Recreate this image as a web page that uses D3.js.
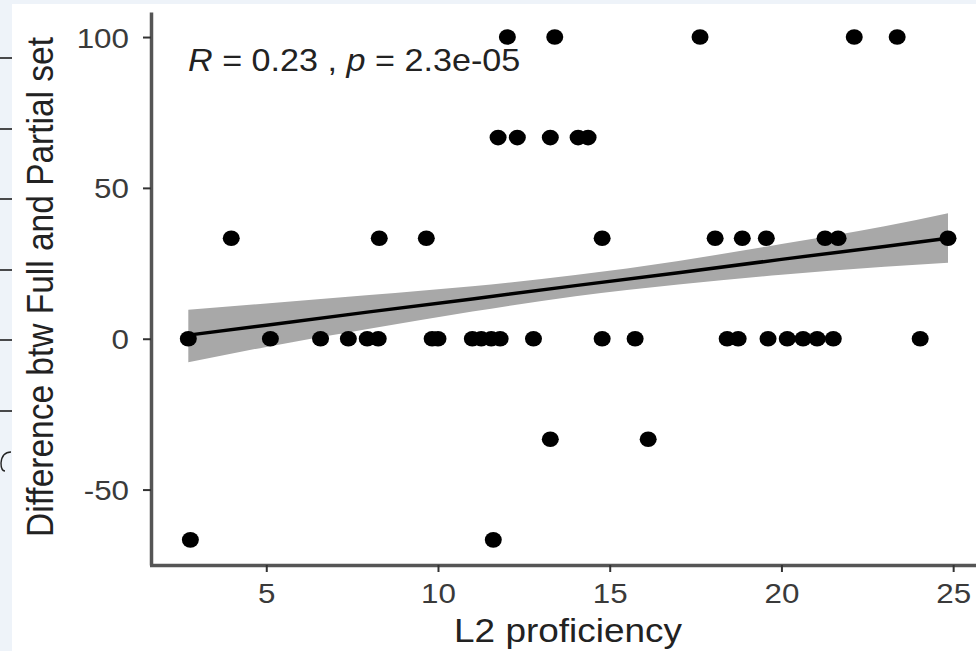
<!DOCTYPE html>
<html>
<head>
<meta charset="utf-8">
<script src="https://cdn.jsdelivr.net/npm/d3@7"></script>
<style>
  html, body { margin: 0; padding: 0; background: #eef3f9; }
  svg { display: block; }
  text { font-family: "Liberation Sans", Arial, sans-serif; }
</style>
</head>
<body>
<script>
//L2 proficiency of each participant (x) and difference score (y)
var profX = [12.02, 13.40, 17.63, 22.12, 23.37,
             11.75, 12.31, 13.27, 14.08, 14.37,
             3.98, 8.29, 9.66, 14.78, 18.07, 18.86, 19.56, 21.27, 21.65, 24.85,
             2.73, 5.12, 6.58, 7.39, 7.94, 8.26, 9.83, 10.00, 11.00, 11.26, 11.55, 11.81,
             12.78, 14.78, 15.74, 18.42, 18.74, 19.61, 20.17, 20.63, 21.04, 21.51, 24.04,
             13.27, 16.12,
             2.79, 11.61];
var diffY = [100, 100, 100, 100, 100,
             66.67, 66.67, 66.67, 66.67, 66.67,
             33.33, 33.33, 33.33, 33.33, 33.33, 33.33, 33.33, 33.33, 33.33, 33.33,
             0, 0, 0, 0, 0, 0, 0, 0, 0, 0, 0, 0,
             0, 0, 0, 0, 0, 0, 0, 0, 0, 0, 0,
             -33.33, -33.33,
             -66.67, -66.67];

//fitted line and its confidence band
var fitX = [2.73, 5, 8, 11, 14, 17, 20, 23, 24.85];
var fitY = [1.2, 4.5, 8.9, 13.2, 17.6, 21.9, 26.3, 30.6, 33.3];
var ciLow = [-7.8, -2.7, 3.3, 9.0, 14.1, 18.0, 21.2, 23.9, 25.2];
var ciHigh = [9.6, 11.7, 14.5, 17.4, 21.1, 25.8, 31.4, 37.3, 41.6];

//axis ticks
var xTicks = [5, 10, 15, 20, 25];
var yTicks = [-50, 0, 50, 100];

var statLabel = ["R", " = 0.23 , ", "p", " = 2.3e-05"];

window.onload = drawChart();

function drawChart(){

    var width = 976,
        height = 651,
        stretch = 1.12; //picture is slightly wider than tall

    var svg = d3.select("body")
        .append("svg")
        .attr("width", width)
        .attr("height", height);

    //white panel area (screenshot has a pale border top and left)
    svg.append("rect")
        .attr("x", 12)
        .attr("y", 4)
        .attr("width", width - 12)
        .attr("height", height - 4)
        .attr("fill", "#ffffff");

    //bits of a neighbouring figure that show at the left edge
    [58, 129, 199, 270, 340, 411].forEach(function(y){
        svg.append("line")
            .attr("x1", 0).attr("x2", 12)
            .attr("y1", y).attr("y2", y)
            .attr("stroke", "#111")
            .attr("stroke-width", 1.5);
    });
    svg.append("path")
        .attr("d", "M11,452 Q2,452 1,463 Q1,471 5,471")
        .attr("fill", "none")
        .attr("stroke", "#222")
        .attr("stroke-width", 1.4);

    var x = d3.scaleLinear()
        .domain([1.6, 26.0])
        .range([149.5, 987.5]);

    var y = d3.scaleLinear()
        .domain([-75, 108.3])
        .range([565, 12]);

    //confidence band
    var band = fitX.map(function(d, i){ return {x: d, lo: ciLow[i], hi: ciHigh[i], f: fitY[i]}; });

    svg.append("path")
        .datum(band)
        .attr("fill", "#a8a8a8")
        .attr("d", d3.area()
            .x(function(d){ return x(d.x); })
            .y0(function(d){ return y(d.lo); })
            .y1(function(d){ return y(d.hi); })
            .curve(d3.curveMonotoneX));

    //regression line
    svg.append("path")
        .datum(band)
        .attr("fill", "none")
        .attr("stroke", "#000")
        .attr("stroke-width", 3.5)
        .attr("d", d3.line()
            .x(function(d){ return x(d.x); })
            .y(function(d){ return y(d.f); }));

    //points
    var pts = profX.map(function(d, i){ return {x: d, y: diffY[i]}; });

    svg.selectAll(".dot")
        .data(pts)
        .enter()
        .append("ellipse")
        .attr("class", "dot")
        .attr("cx", function(d){ return x(d.x); })
        .attr("cy", function(d){ return y(d.y); })
        .attr("rx", 8.5)
        .attr("ry", 7.8)
        .attr("fill", "#000");

    //axes (plain hyphen for negatives, as in R)
    var plain = function(d){ return String(d); };

    var xAxis = svg.append("g")
        .attr("transform", "translate(0,565)")
        .call(d3.axisBottom(x).tickValues(xTicks).tickFormat(plain).tickSize(7).tickSizeOuter(0));

    var yAxis = svg.append("g")
        .attr("transform", "translate(151,0)")
        .call(d3.axisLeft(y).tickValues(yTicks).tickFormat(plain).tickSize(8).tickSizeOuter(0));

    [xAxis, yAxis].forEach(function(g){
        g.select(".domain").attr("stroke", "#555").attr("stroke-width", 3.5);
        g.selectAll(".tick line").attr("stroke", "#333").attr("stroke-width", 2);
        g.selectAll(".tick text")
            .attr("fill", "#3a3a3a")
            .style("font-size", "28px")
            .attr("x", 0)
            .attr("y", 0);
    });

    xAxis.selectAll(".tick text")
        .attr("dy", 0)
        .attr("transform", "translate(0,38) scale(" + stretch + ",1)");

    yAxis.selectAll(".tick text")
        .attr("dy", "0.36em")
        .attr("transform", "translate(-22,0) scale(" + stretch + ",1)");

    //axis titles
    svg.append("text")
        .attr("transform", "translate(568,642) scale(" + stretch + ",1)")
        .attr("text-anchor", "middle")
        .attr("fill", "#222")
        .style("font-size", "33px")
        .text("L2 proficiency");

    svg.append("text")
        .attr("transform", "translate(53,287) scale(" + stretch + ",1) rotate(-90)")
        .attr("text-anchor", "middle")
        .attr("fill", "#222")
        .style("font-size", "33.5px")
        .text("Difference btw Full and Partial set");

    //correlation label
    var stat = svg.append("text")
        .attr("transform", "translate(188,71) scale(" + stretch + ",1)")
        .attr("fill", "#222")
        .style("font-size", "30.5px");

    stat.selectAll("tspan")
        .data(statLabel)
        .enter()
        .append("tspan")
        .style("font-style", function(d, i){ return i % 2 == 0 ? "italic" : "normal"; })
        .text(function(d){ return d; });
};
</script>
</body>
</html>
